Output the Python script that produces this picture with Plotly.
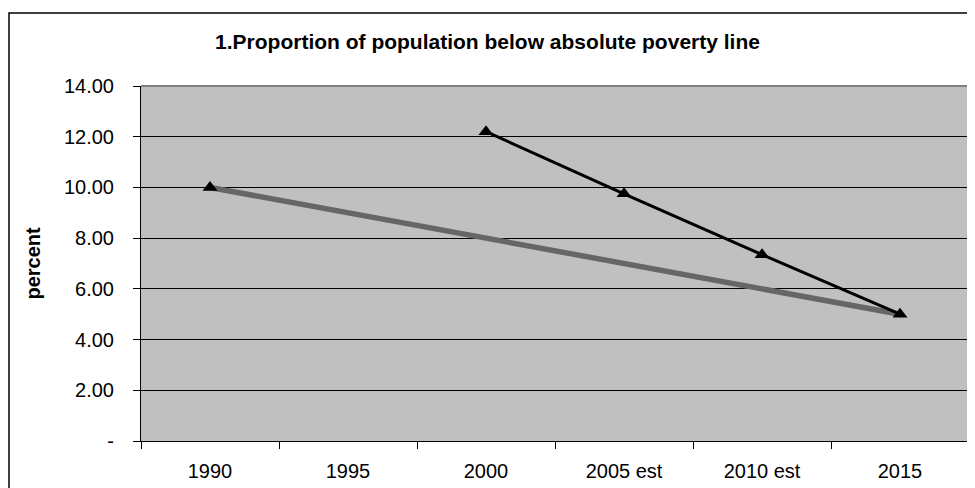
import plotly.graph_objects as go

categories = ["1990", "1995", "2000", "2005 est", "2010 est", "2015"]
target_values = [10.0, 9.0, 8.0, 7.0, 6.0, 5.0]
actual_values = [10.0, None, 12.2, 9.75, 7.35, 5.0]
y_tickvals = [0, 2, 4, 6, 8, 10, 12, 14]
y_ticktext = ["-", "2.00", "4.00", "6.00", "8.00", "10.00", "12.00", "14.00"]

# page body has an 8px margin, so the figure is sized to fill the rest of the window
W, H = 967, 480
L, R, T, B = 133, 6, 78, 47
pw, ph = W - L - R, H - T - B

fig = go.Figure()
fig.add_trace(go.Scatter(
    x=categories, y=target_values, mode="lines",
    line=dict(color="#666666", width=5.5), showlegend=False, hoverinfo="skip"))
fig.add_trace(go.Scatter(
    x=categories, y=actual_values, mode="lines+markers",
    line=dict(color="#000000", width=3),
    marker=dict(symbol="triangle-up", size=13, color="#000000"),
    connectgaps=False, showlegend=False))

font = "Liberation Sans, Arial, sans-serif"
fig.update_layout(
    width=W, height=H,
    margin=dict(l=L, r=R, t=T, b=B),
    paper_bgcolor="white", plot_bgcolor="#C0C0C0",
    font=dict(family=font, size=20, color="black"),
    title=dict(text="<b>1.Proportion of population below absolute poverty line</b>",
               x=479.5 / W, xref="container", xanchor="center",
               y=1 - 34 / H, yref="container", yanchor="middle",
               font=dict(size=21, family=font)),
    xaxis=dict(type="category", range=[-0.5, 5.5], tickson="boundaries",
               ticks="outside", ticklen=7, tickcolor="black",
               showline=True, linecolor="black", linewidth=1,
               showgrid=False, zeroline=False, ticklabelstandoff=12,
               tickfont=dict(size=20)),
    yaxis=dict(range=[0, 14], tickvals=y_tickvals, ticktext=y_ticktext,
               ticks="outside", ticklen=7, tickcolor="black",
               showline=True, linecolor="black", linewidth=1,
               showgrid=True, gridcolor="black", gridwidth=1,
               zeroline=False, ticklabelstandoff=15,
               tickfont=dict(size=20)),
)

# plot-area border: gray on top and right
fig.add_shape(type="line", xref="paper", yref="paper", x0=0, x1=1, y0=1, y1=1,
              line=dict(color="#808080", width=2), layer="above")
fig.add_shape(type="line", xref="paper", yref="paper", x0=1, x1=1, y0=0, y1=1,
              line=dict(color="#808080", width=2), layer="above")
# outer chart border
fig.add_shape(type="rect", xref="paper", yref="paper",
              x0=(1 - L) / pw, x1=(1000 - L) / pw,
              y0=(H - B - 520) / ph, y1=(H - B - 5) / ph,
              line=dict(color="black", width=1.5))

fig.add_annotation(text="<b>percent</b>", xref="paper", yref="paper",
                   x=(24 - L) / pw, y=0.5, textangle=-90, showarrow=False,
                   xanchor="center", yanchor="middle", font=dict(size=20, family=font))

fig.write_html("out.html")
